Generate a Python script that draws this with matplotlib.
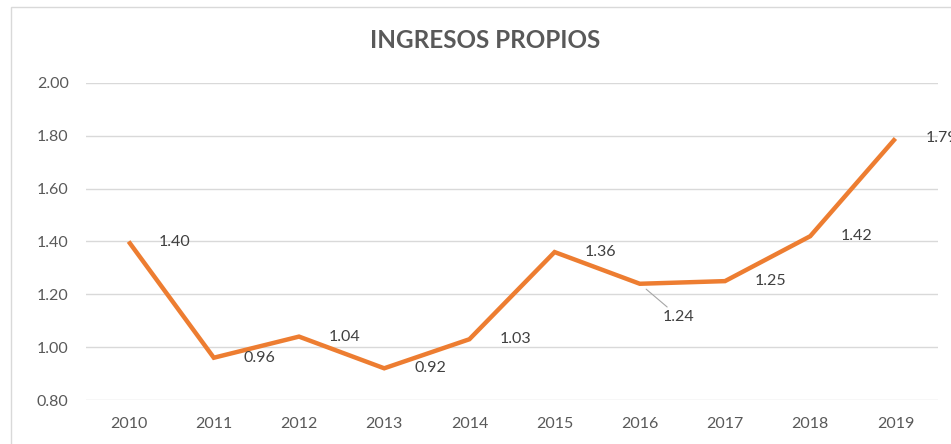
import matplotlib.pyplot as plt
from matplotlib.patches import Rectangle

years = ["2010", "2011", "2012", "2013", "2014", "2015", "2016", "2017", "2018", "2019"]
ingresos = [1.40, 0.96, 1.04, 0.92, 1.03, 1.36, 1.24, 1.25, 1.42, 1.79]
yticks = [0.80, 1.00, 1.20, 1.40, 1.60, 1.80, 2.00]

W, H = 951, 444
plt.rcParams['font.family'] = ['Lato', 'DejaVu Sans']

fig = plt.figure(figsize=(W / 100, H / 100), dpi=100)
fig.patch.set_facecolor('white')

# chart frame
fig.patches.append(Rectangle((11 / W, -0.1), 1.2, (H - 7) / H + 0.1,
                             transform=fig.transFigure, fill=False,
                             edgecolor='#D9D9D9', linewidth=1.0))

ax = fig.add_axes([86 / W, (H - 400) / H, (938 - 86) / W, 317 / H])
x = list(range(len(years)))
ax.plot(x, ingresos, color='#ED7D31', linewidth=3.2, solid_joinstyle='miter',
        solid_capstyle='butt', zorder=3)

ax.set_xlim(-0.5, len(years) - 0.5)
ax.set_ylim(0.80, 2.00)
ax.set_yticks(yticks)
ax.set_yticklabels([f"{v:.2f}" for v in yticks])
ax.set_xticks(x)
ax.set_xticklabels(years)
ax.tick_params(axis='both', length=0, labelsize=11.5, colors='#595959')
ax.tick_params(axis='x', pad=12)
ax.tick_params(axis='y', pad=12.5)
for s in ax.spines.values():
    s.set_visible(False)
ax.grid(axis='y', color='#D9D9D9', linewidth=1.0)
ax.set_axisbelow(True)

for i, v in enumerate(ingresos):
    if years[i] == "2016":
        ax.annotate(f"{v:.2f}", (i, v), xytext=(23, -33), textcoords='offset pixels',
                    ha='left', va='center', fontsize=11.5, color='#404040',
                    annotation_clip=False,
                    arrowprops=dict(arrowstyle='-', color='#A6A6A6', lw=0.8,
                                    shrinkA=0, shrinkB=6))
    else:
        ax.annotate(f"{v:.2f}", (i, v), xytext=(30, 0), textcoords='offset pixels',
                    ha='left', va='center', fontsize=11.5, color='#404040',
                    annotation_clip=False)

fig.text(485.5 / W, (H - 41) / H, "INGRESOS PROPIOS", ha='center', va='center',
         fontsize=17.5, fontweight='bold', color='#595959')

fig.savefig('out.png', dpi=100)
